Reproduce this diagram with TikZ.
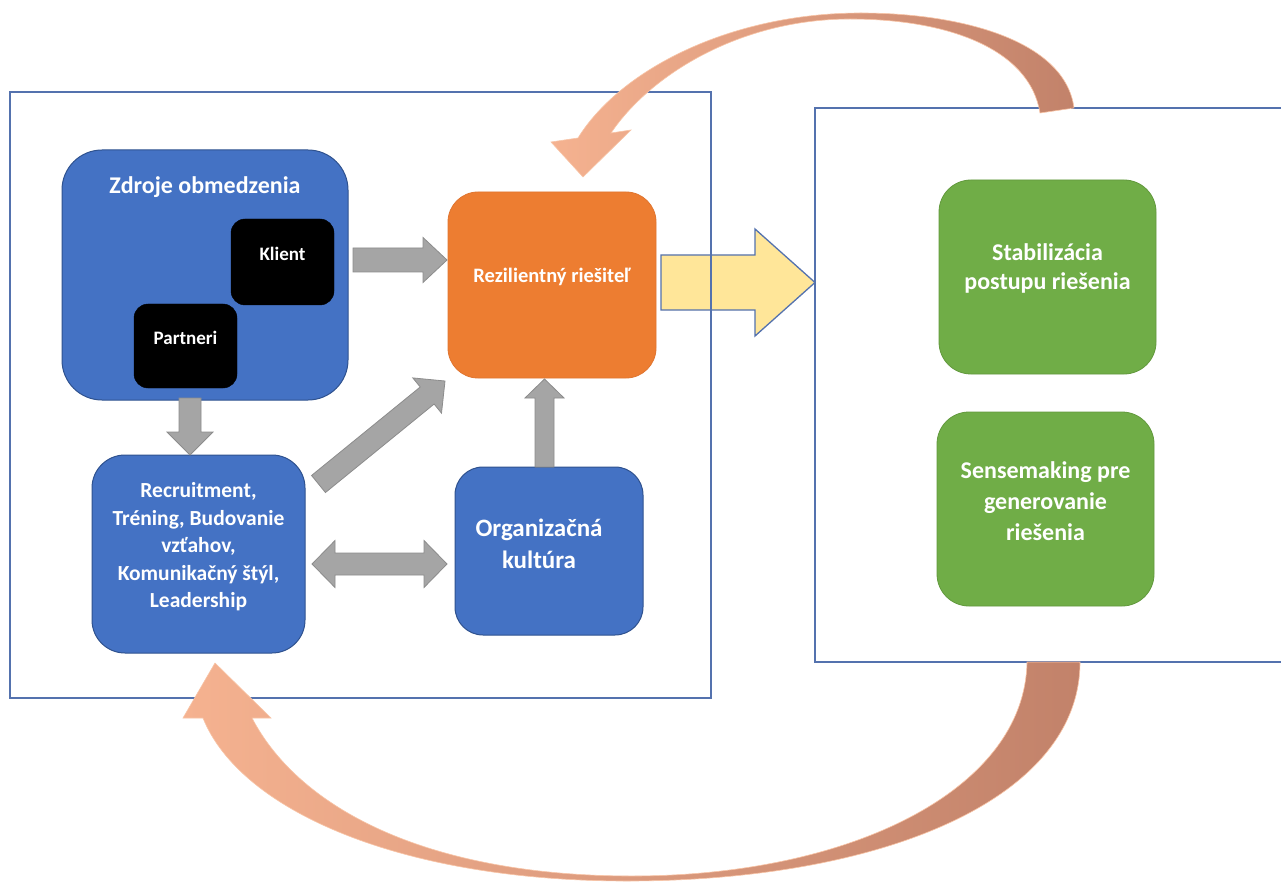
\documentclass[tikz,border=0pt]{standalone}
\usepackage{fontspec}
\setmainfont{Carlito}
\usetikzlibrary{calc}
\definecolor{boxblue}{HTML}{4472C4}
\definecolor{boxblueb}{HTML}{2F528F}
\definecolor{boxorange}{HTML}{ED7D31}
\definecolor{boxorangeb}{HTML}{E07530}
\definecolor{boxgreen}{HTML}{70AD47}
\definecolor{boxgreenb}{HTML}{62993D}
\definecolor{grayfill}{HTML}{A5A5A5}
\definecolor{grayline}{HTML}{8C8C8C}
\definecolor{yellowfill}{HTML}{FFE699}
\definecolor{frameline}{HTML}{5472AE}
\definecolor{curvelight}{HTML}{F5B290}
\definecolor{curvedark}{HTML}{C2826A}
\definecolor{curveedge}{HTML}{F8C4A6}
\newcommand\blockarr[6]{% style, from, to, half shaft, half head, head length
  \path ($(#3)!#6!(#2)$) coordinate (hbase);
  \filldraw[#1] ($(#2)!#4!90:(#3)$) -- ($(hbase)!#4!-90:(#2)$) -- ($(hbase)!#5!-90:(#2)$) -- (#3)
    -- ($(hbase)!#5!90:(#2)$) -- ($(hbase)!#4!90:(#2)$) -- ($(#2)!#4!-90:(#3)$) -- cycle;}
\newcommand\dblarr[6]{% style, from, to, half shaft, half head, head length
  \path ($(#2)!#6!(#3)$) coordinate (ha) ($(#3)!#6!(#2)$) coordinate (hb);
  \filldraw[#1] (#2) -- ($(ha)!#5!90:(#3)$) -- ($(ha)!#4!90:(#3)$) -- ($(hb)!#4!-90:(#2)$) -- ($(hb)!#5!-90:(#2)$)
    -- (#3) -- ($(hb)!#5!90:(#2)$) -- ($(hb)!#4!90:(#2)$) -- ($(ha)!#4!-90:(#3)$) -- ($(ha)!#5!-90:(#3)$) -- cycle;}
\begin{document}
\begin{tikzpicture}[x=1pt,y=-1pt,
  frame/.style={draw=frameline,line width=1.5pt},
  bluebox/.style={draw=boxblueb,line width=1pt,fill=boxblue},
  blackbox/.style={fill=black,draw=black},
  wtxt/.style={text=white,font=\bfseries,align=center,inner sep=0pt},
  garrow/.style={fill=grayfill,draw=grayline,line width=0.8pt,line join=miter},
  yarrow/.style={fill=yellowfill,draw=frameline,line width=1.3pt,line join=miter},
  curvearrow/.style={left color=curvelight,right color=curvedark,draw=curveedge,line width=0.6pt}]
\clip (0,0) rectangle (1281,882);
\fill[white] (0,0) rectangle (1281,882);

% yellow arrow (under the frames)
\coordinate (ys) at (661,282.5);
\coordinate (ye) at (815,282.5);
\blockarr{yarrow}{ys}{ye}{27.5pt}{53.5pt}{60pt}

% frames
\draw[frame] (10,92) rectangle (711,698);
\draw[frame] (815,108) rectangle (1300,662);

% left group
\draw[bluebox,rounded corners=40pt] (62,150) rectangle (348,400);
\node[wtxt,font=\bfseries\fontsize{24}{28}\selectfont] (zdr) at (205,187) {Zdroje obmedzenia};
\draw[blackbox,rounded corners=14pt] (231,219) rectangle (334,305);
\node[wtxt,font=\bfseries\fontsize{19}{22}\selectfont] (klient) at (282.5,254) {Klient};
\draw[blackbox,rounded corners=14pt] (134,304) rectangle (237,388);
\node[wtxt,font=\bfseries\fontsize{19}{22}\selectfont] (partneri) at (185.5,338) {Partneri};

\draw[bluebox,rounded corners=33pt] (92,455) rectangle (305,653);
\node[wtxt,font=\bfseries\fontsize{21.5}{27.5}\selectfont] (recr) at (198.5,547)
  {Recruitment,\\Tréning, Budovanie\\vzťahov,\\Komunikačný štýl,\\Leadership};

\draw[bluebox,rounded corners=28pt] (455,467) rectangle (643,635);
\node[wtxt,font=\bfseries\fontsize{25}{32}\selectfont] (org) at (539,544) {Organizačná\\kultúra};

\draw[draw=boxorangeb,fill=boxorange,line width=0.8pt,rounded corners=30pt] (448,192) rectangle (656,378);
\node[wtxt,font=\bfseries\fontsize{20.5}{24}\selectfont] (rez) at (552,277) {Rezilientný riešiteľ};

% right group
\draw[draw=boxgreenb,fill=boxgreen,line width=0.8pt,rounded corners=32pt] (939,180) rectangle (1156,374);
\node[wtxt,font=\bfseries\fontsize{24}{29}\selectfont] (stab) at (1047.5,268) {Stabilizácia\\postupu riešenia};
\draw[draw=boxgreenb,fill=boxgreen,line width=0.8pt,rounded corners=32pt] (937,412) rectangle (1154,606);
\node[wtxt,font=\bfseries\fontsize{24}{31}\selectfont] (sense) at (1045.5,501) {Sensemaking pre\\generovanie\\riešenia};

% gray block arrows
\coordinate (a1s) at (353,260);   \coordinate (a1e) at (447,260);
\coordinate (a2s) at (190,398);   \coordinate (a2e) at (190,455);
\coordinate (a3s) at (544.5,467); \coordinate (a3e) at (544.5,379);
\coordinate (a4s) at (318.5,484); \coordinate (a4e) at (445,381);
\coordinate (a5s) at (312,564);   \coordinate (a5e) at (447,564);
\blockarr{garrow}{a1s}{a1e}{12pt}{22.5pt}{24pt}
\blockarr{garrow}{a2s}{a2e}{11pt}{23pt}{23pt}
\blockarr{garrow}{a3s}{a3e}{9.5pt}{19.5pt}{19pt}
\blockarr{garrow}{a4s}{a4e}{11pt}{22.7pt}{23pt}
\dblarr{garrow}{a5s}{a5e}{11pt}{23.5pt}{23pt}

% curved arrows
\coordinate (ttailo) at (1074,108); \coordinate (ttaili) at (1040,113);
\coordinate (tto) at (861,13);      \coordinate (tti) at (850,19);
\coordinate (tho) at (578,138);     \coordinate (thi) at (611,133);
\coordinate (twl) at (551,142);     \coordinate (twr) at (631,130);
\coordinate (ttip) at (583,177);
\shadedraw[curvearrow] (ttailo) .. controls (1065,40) and (960,13) .. (tto)
  .. controls (730,13) and (620,70) .. (tho) -- (twl) -- (ttip) -- (twr) -- (thi)
  .. controls (650,75) and (740,19) .. (tti) .. controls (950,19) and (1030,50) .. (ttaili) -- cycle;

\coordinate (btailo) at (1080,662); \coordinate (btaili) at (1027,662);
\coordinate (bbo) at (627,881);     \coordinate (bbi) at (632,876);
\coordinate (bho) at (203,718);     \coordinate (bhi) at (252,718);
\coordinate (bwl) at (183,718);     \coordinate (bwr) at (271,718);
\coordinate (btip) at (215,663);
\shadedraw[curvearrow] (btailo) .. controls (1080,800) and (880,881) .. (bbo)
  .. controls (400,881) and (240,810) .. (bho) -- (bwl) -- (btip) -- (bwr) -- (bhi)
  .. controls (300,810) and (430,876) .. (bbi) .. controls (850,876) and (1025,790) .. (btaili) -- cycle;
\end{tikzpicture}
\end{document}
